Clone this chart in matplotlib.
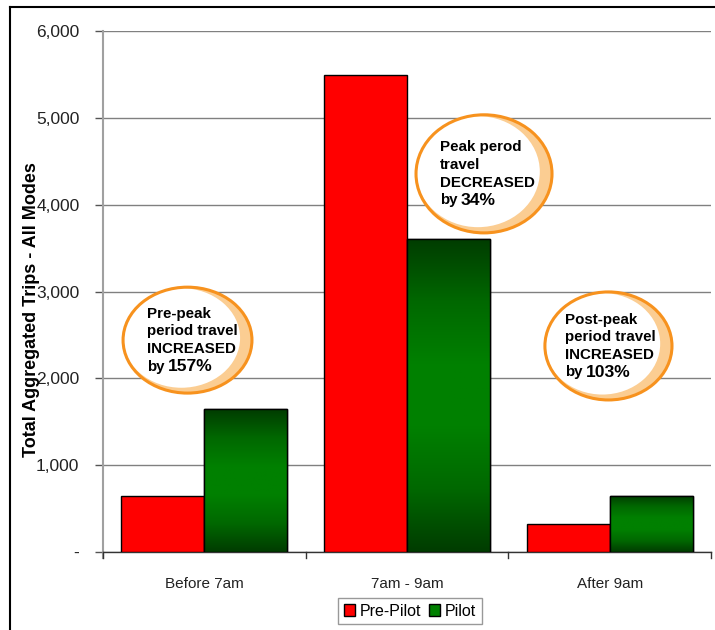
import numpy as np
import matplotlib
matplotlib.use("Agg")
import matplotlib.pyplot as plt
from matplotlib import font_manager
from matplotlib.patches import Ellipse, Rectangle
from matplotlib.lines import Line2D
from matplotlib.colors import LinearSegmentedColormap

plt.rcParams['font.family'] = ['Liberation Sans', 'DejaVu Sans']

categories = ["Before 7am", "7am - 9am", "After 9am"]
pre_pilot = [640, 5490, 320]
pilot = [1645, 3610, 650]
y_ticks = [0, 1000, 2000, 3000, 4000, 5000, 6000]
y_tick_labels = ["-", "1,000", "2,000", "3,000", "4,000", "5,000", "6,000"]
callouts = [
    (["Pre-peak", "period travel", "INCREASED", "by"], "157%"),
    (["Peak perod", "travel", "DECREASED", "by"], "34%"),
    (["Post-peak", "period travel", "INCREASED", "by"], "103%"),
]

names = {f.name for f in font_manager.fontManager.ttflist}
if "Liberation Sans Narrow" in names:
    bubble_family = ["Liberation Sans Narrow", "Liberation Sans"]
    bubble_fs, num_fs = 12.2, 13.4
else:
    bubble_family = ["Liberation Sans", "DejaVu Sans"]
    bubble_fs, num_fs = 10.9, 12.6

W, H = 715, 630
fig = plt.figure(figsize=(W / 100, H / 100), dpi=100)
ax = fig.add_axes([103 / W, 1 - 552 / H, (711 - 103) / W, (552 - 31) / H])

x = np.arange(len(categories))
bw = 0.41
bars_pre = ax.bar(x - bw / 2, pre_pilot, bw, color="#FF0000", edgecolor="black",
                  linewidth=1.0, zorder=3, label="Pre-Pilot")
bars_pil = ax.bar(x + bw / 2, pilot, bw, color="#008000", edgecolor="black",
                  linewidth=1.0, zorder=3, label="Pilot")

# vertical dark-bright-dark shading on the pilot bars
green_cmap = LinearSegmentedColormap.from_list(
    "g", ["#003C00", "#006800", "#008000", "#008000", "#006800", "#003C00"])
grad = np.linspace(0, 1, 256).reshape(-1, 1)
for b in bars_pil:
    x0, y0 = b.get_x(), b.get_y()
    w, h = b.get_width(), b.get_height()
    im = ax.imshow(grad, cmap=green_cmap, aspect="auto",
                   extent=[x0, x0 + w, y0, y0 + h], zorder=3.5)
    im.set_clip_path(b)
    ax.add_patch(Rectangle((x0, y0), w, h, fill=False, edgecolor="black",
                           linewidth=1.0, zorder=4))

ax.set_xlim(-0.5, 2.5)
ax.set_ylim(0, 6000)
ax.set_yticks(y_ticks)
ax.set_yticklabels(y_tick_labels, fontsize=12.5, color="#222222")
ax.set_xticks(x)
ax.set_xticklabels(categories, fontsize=11, color="#222222")
ax.tick_params(axis="x", length=0, pad=18)
ax.tick_params(axis="y", length=6, width=1, color="#555555", pad=11)

ax.yaxis.grid(True, color="#808080", linewidth=1.0, zorder=0)
ax.set_axisbelow(True)
for s in ["top", "right"]:
    ax.spines[s].set_visible(False)
ax.spines["left"].set_color("#A0A0A0")
ax.spines["left"].set_linewidth(1.5)
ax.spines["left"].set_bounds(-70, 6000)
ax.spines["bottom"].set_color("#333333")
ax.spines["bottom"].set_linewidth(1.0)

# category boundary tick marks below the x axis
for xb in [-0.5, 0.5, 1.5, 2.5]:
    ax.plot([xb, xb], [0, -70], color="#333333", linewidth=1.0,
            clip_on=False, zorder=5)

ax.set_ylabel("Total Aggregated Trips - All Modes", fontsize=13,
              fontweight="bold")
ax.yaxis.set_label_coords((40 - 103) / (711 - 103), (552 - 310) / (552 - 31))

# callout bubbles: centre (category units, trips) and size
bubble_centers = [(-0.083, 2440), (1.38, 4355), (1.994, 2373)]
bubble_sizes = [(0.636, 1220), (0.671, 1360), (0.627, 1244)]
text_left = [(147 - 103) / 202.7 - 0.5, (440 - 103) / 202.7 - 0.5,
             (565 - 103) / 202.7 - 0.5]
px = 1000 / 86.8
fig.canvas.draw()
renderer = fig.canvas.get_renderer()
inv = ax.transData.inverted()
for (cx, cy), (bwid, bht), tx, (lines, num) in zip(
        bubble_centers, bubble_sizes, text_left, callouts):
    ax.add_patch(Ellipse((cx, cy), bwid, bht, facecolor="#FBCD92",
                         edgecolor="none", zorder=6))
    ax.add_patch(Ellipse((cx - 0.03, cy + 25), bwid * 0.91, bht * 0.94,
                         facecolor="white", edgecolor="none", zorder=6.5))
    ax.add_patch(Ellipse((cx, cy), bwid, bht, facecolor="none",
                         edgecolor="#F7921E", linewidth=2.2, zorder=7))
    step = 17.6 * px
    ty = cy + 1.5 * step
    for i, line in enumerate(lines):
        t = ax.text(tx, ty - i * step, line, fontsize=bubble_fs,
                    fontweight="bold", family=bubble_family,
                    ha="left", va="center", zorder=8)
    bb = t.get_window_extent(renderer)
    xe = inv.transform((bb.x1 + 3, bb.y0))[0]
    ax.text(xe, ty - 3 * step, num, fontsize=num_fs, fontweight="bold",
            family=bubble_family, ha="left", va="center", zorder=8)

handles = [Rectangle((0, 0), 1, 1, facecolor="#FF0000", edgecolor="black"),
           Rectangle((0, 0), 1, 1, facecolor="#008000", edgecolor="black")]
leg = fig.legend(handles, ["Pre-Pilot", "Pilot"], loc="center",
                 bbox_to_anchor=(410 / W, 1 - 611 / H), ncol=2, fontsize=11.5,
                 frameon=True, fancybox=False, handlelength=0.7,
                 handleheight=0.7, handletextpad=0.3, columnspacing=0.5,
                 borderpad=0.35, borderaxespad=0)
leg.get_frame().set_edgecolor("#808080")
leg.get_frame().set_linewidth(1.0)

# outer chart frame (left and top edges)
fig.add_artist(Line2D([10 / W, 10 / W], [0, 1 - 7 / H], color="black",
                      linewidth=1.5, transform=fig.transFigure))
fig.add_artist(Line2D([10 / W, 1], [1 - 7 / H, 1 - 7 / H], color="black",
                      linewidth=1.5, transform=fig.transFigure))

fig.savefig("out.png", dpi=100)
